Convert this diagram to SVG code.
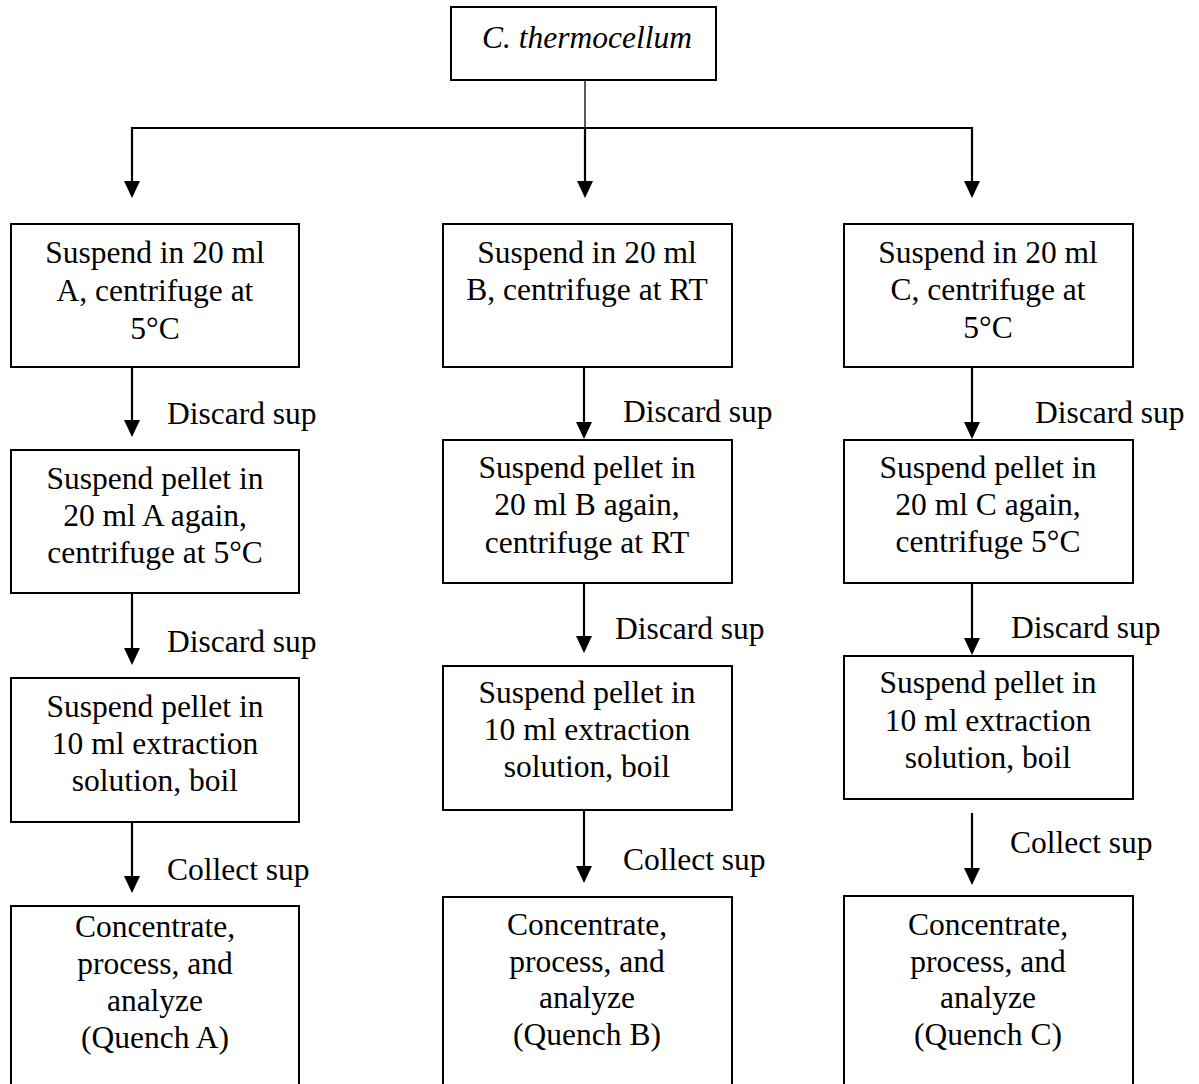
<svg xmlns="http://www.w3.org/2000/svg" width="1199" height="1084" viewBox="0 0 1199 1084">
  <style>
    .box { fill: #ffffff; stroke: #000000; stroke-width: 2; }
    .t { font-family: "Liberation Serif", "Times New Roman", serif; font-size: 31.5px; fill: #000000; }
    .c { text-anchor: middle; }
    .i { font-style: italic; }
    .ln { fill: none; stroke: #000000; stroke-width: 2; }
    .thin { fill: none; stroke: #000000; stroke-width: 1.3; }
    .arr { fill: none; stroke: #000000; stroke-width: 2.2; marker-end: url(#head); }
  </style>
  <defs>
    <marker id="head" markerUnits="userSpaceOnUse" viewBox="0 0 17 16" refX="9" refY="8" markerWidth="17" markerHeight="16" orient="auto">
      <path d="M0,0 L17,8 L0,16 Z" fill="#000000"/>
    </marker>
  </defs>

  <rect width="1199" height="1084" fill="#ffffff"/>

  <!-- connectors -->
  <g id="connectors">
    <line class="thin" x1="585" y1="80" x2="585" y2="128"/>
    <line class="ln" x1="131" y1="128" x2="973" y2="128"/>
    <line class="arr" x1="132" y1="127" x2="132" y2="190"/>
    <line class="arr" x1="585" y1="127" x2="585" y2="190"/>
    <line class="arr" x1="972" y1="127" x2="972" y2="190"/>

    <line class="arr" x1="132" y1="367" x2="132" y2="429"/>
    <line class="arr" x1="132" y1="593" x2="132" y2="657"/>
    <line class="arr" x1="132" y1="822" x2="132" y2="885"/>

    <line class="arr" x1="584" y1="367" x2="584" y2="431"/>
    <line class="arr" x1="584" y1="583" x2="584" y2="645"/>
    <line class="arr" x1="584" y1="810" x2="584" y2="875"/>

    <line class="arr" x1="972" y1="367" x2="972" y2="431"/>
    <line class="arr" x1="972" y1="583" x2="972" y2="647"/>
    <line class="arr" x1="972" y1="813" x2="972" y2="877"/>

    <text class="t" x="167" y="424">Discard sup</text>
    <text class="t" x="167" y="652">Discard sup</text>
    <text class="t" x="167" y="880">Collect sup</text>

    <text class="t" x="623" y="422">Discard sup</text>
    <text class="t" x="615" y="639">Discard sup</text>
    <text class="t" x="623" y="870">Collect sup</text>

    <text class="t" x="1035" y="423">Discard sup</text>
    <text class="t" x="1011" y="638">Discard sup</text>
    <text class="t" x="1010" y="853">Collect sup</text>
  </g>

  <!-- source organism -->
  <g id="source">
    <rect class="box" x="451" y="7" width="265" height="73"/>
    <text class="t c i" x="587" y="48">C. thermocellum</text>
  </g>

  <!-- column A -->
  <g id="a1">
    <rect class="box" x="11" y="224" width="288" height="143"/>
    <text class="t c" x="155" y="263">Suspend in 20 ml</text>
    <text class="t c" x="155" y="301">A, centrifuge at</text>
    <text class="t c" x="155" y="339">5°C</text>
  </g>
  <g id="a2">
    <rect class="box" x="11" y="450" width="288" height="143"/>
    <text class="t c" x="155" y="489">Suspend pellet in</text>
    <text class="t c" x="155" y="526">20 ml A again,</text>
    <text class="t c" x="155" y="563">centrifuge at 5°C</text>
  </g>
  <g id="a3">
    <rect class="box" x="11" y="678" width="288" height="144"/>
    <text class="t c" x="155" y="717">Suspend pellet in</text>
    <text class="t c" x="155" y="754">10 ml extraction</text>
    <text class="t c" x="155" y="791">solution, boil</text>
  </g>
  <g id="a4">
    <rect class="box" x="11" y="906" width="288" height="200"/>
    <text class="t c" x="155" y="937">Concentrate,</text>
    <text class="t c" x="155" y="974">process, and</text>
    <text class="t c" x="155" y="1011">analyze</text>
    <text class="t c" x="155" y="1048">(Quench A)</text>
  </g>

  <!-- column B -->
  <g id="b1">
    <rect class="box" x="443" y="224" width="289" height="143"/>
    <text class="t c" x="587" y="263">Suspend in 20 ml</text>
    <text class="t c" x="587" y="300">B, centrifuge at RT</text>
  </g>
  <g id="b2">
    <rect class="box" x="443" y="440" width="289" height="143"/>
    <text class="t c" x="587" y="478">Suspend pellet in</text>
    <text class="t c" x="587" y="515">20 ml B again,</text>
    <text class="t c" x="587" y="553">centrifuge at RT</text>
  </g>
  <g id="b3">
    <rect class="box" x="443" y="666" width="289" height="144"/>
    <text class="t c" x="587" y="703">Suspend pellet in</text>
    <text class="t c" x="587" y="740">10 ml extraction</text>
    <text class="t c" x="587" y="777">solution, boil</text>
  </g>
  <g id="b4">
    <rect class="box" x="443" y="897" width="289" height="200"/>
    <text class="t c" x="587" y="935">Concentrate,</text>
    <text class="t c" x="587" y="972">process, and</text>
    <text class="t c" x="587" y="1008">analyze</text>
    <text class="t c" x="587" y="1045">(Quench B)</text>
  </g>

  <!-- column C -->
  <g id="c1">
    <rect class="box" x="844" y="224" width="289" height="143"/>
    <text class="t c" x="988" y="263">Suspend in 20 ml</text>
    <text class="t c" x="988" y="300">C, centrifuge at</text>
    <text class="t c" x="988" y="338">5°C</text>
  </g>
  <g id="c2">
    <rect class="box" x="844" y="440" width="289" height="143"/>
    <text class="t c" x="988" y="478">Suspend pellet in</text>
    <text class="t c" x="988" y="515">20 ml C again,</text>
    <text class="t c" x="988" y="552">centrifuge 5°C</text>
  </g>
  <g id="c3">
    <rect class="box" x="844" y="656" width="289" height="143"/>
    <text class="t c" x="988" y="693">Suspend pellet in</text>
    <text class="t c" x="988" y="731">10 ml extraction</text>
    <text class="t c" x="988" y="768">solution, boil</text>
  </g>
  <g id="c4">
    <rect class="box" x="844" y="896" width="289" height="200"/>
    <text class="t c" x="988" y="935">Concentrate,</text>
    <text class="t c" x="988" y="972">process, and</text>
    <text class="t c" x="988" y="1008">analyze</text>
    <text class="t c" x="988" y="1045">(Quench C)</text>
  </g>
</svg>
